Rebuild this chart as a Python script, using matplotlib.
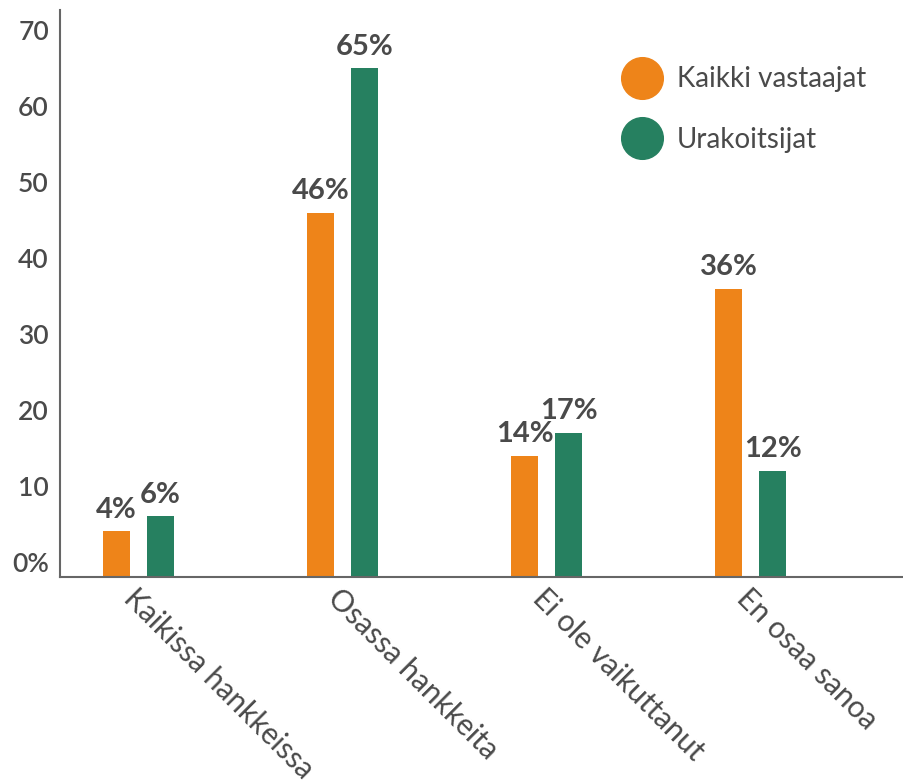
import numpy as np
import matplotlib.pyplot as plt
from matplotlib.lines import Line2D

plt.rcParams['font.family'] = ['Lato', 'DejaVu Sans']

# data
categories = ['Kaikissa hankkeissa', 'Osassa hankkeita', 'Ei ole vaikuttanut', 'En osaa sanoa']
kaikki = [4, 46, 14, 36]
urakoitsijat = [6, 65, 17, 12]
series_names = ['Kaikki vastaajat', 'Urakoitsijat']
yticks = [0, 10, 20, 30, 40, 50, 60, 70]
ytick_labels = ['0%', '10', '20', '30', '40', '50', '60', '70']

orange = '#EE8419'
green = '#268060'
txt = '#4a4a4a'

fig = plt.figure(figsize=(9.04, 7.84), dpi=100)
ax = fig.add_axes([60/904, 207/784, 844/904, 567/784])

ymin, ymax = -2, 72.7
x = np.arange(len(categories))
w = 0.132
off = 0.108

ax.bar(x - off, np.array(kaikki) - ymin, w, bottom=ymin, color=orange)
ax.bar(x + off, np.array(urakoitsijat) - ymin, w, bottom=ymin, color=green)

for xs, vals in [(x - off, kaikki), (x + off, urakoitsijat)]:
    for xi, v in zip(xs, vals):
        ax.text(xi, v + 1.1, f'{v}%', ha='center', va='bottom',
                fontsize=21, fontweight='bold', color=txt)

ax.set_xlim(-0.385, 3.75)
ax.set_ylim(ymin, ymax)
ax.set_yticks(yticks)
ax.set_yticklabels(ytick_labels, fontsize=19, color=txt, fontweight='semibold')
ax.set_xticks(x)
ax.set_xticklabels(categories, rotation=-45, ha='left', va='top',
                   rotation_mode='anchor', fontsize=21.5, color=txt)
ax.tick_params(length=0, pad=8)
ax.tick_params(axis='x', pad=5)

for s in ['top', 'right']:
    ax.spines[s].set_visible(False)
for s in ['left', 'bottom']:
    ax.spines[s].set_color('#666666')
    ax.spines[s].set_linewidth(1.5)

handles = [Line2D([], [], marker='o', linestyle='', markersize=30, color=c)
           for c in [orange, green]]
leg = ax.legend(handles, series_names, loc='upper left',
                bbox_to_anchor=(0.652, 0.925), frameon=False, fontsize=20,
                handlelength=1.3, handletextpad=0.6, labelspacing=1.25, borderpad=0)
for t in leg.get_texts():
    t.set_color(txt)

fig.savefig('out.png', dpi=100)
